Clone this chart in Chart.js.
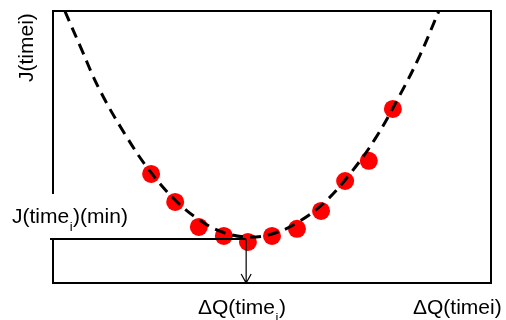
<!DOCTYPE html>
<html>
<head>
<meta charset="utf-8">
<script src="https://cdn.jsdelivr.net/npm/chart.js@4.4.0/dist/chart.umd.min.js"></script>
<style>
  html, body { margin: 0; padding: 0; background: #fff; }
  #wrap { width: 506px; height: 320px; }
</style>
</head>
<body>
<div id="wrap"><canvas id="costChart" width="506" height="320"></canvas></div>
<script>
// measured points J(ΔQ)
const sampleQ = [22.4, 27.9, 33.3, 39.0, 44.5, 50.0, 55.7, 61.2, 66.7, 72.1, 77.6];
const sampleJ = [40.1, 29.8, 20.6, 17.3, 15.1, 17.3, 19.9, 26.5, 37.5, 44.9, 64.0];

// fitted curve
const curveQ = [2.7, 6.2, 10.5, 16.4, 22.1, 27.9, 33.6, 39.3, 45.0, 50.7, 56.4, 62.1, 67.8, 73.5, 79.2, 83.8, 88.1];
const curveJ = [100, 87.1, 71.5, 54.8, 41.2, 30.5, 23.0, 18.4, 16.9, 18.4, 22.8, 29.8, 40.1, 52.9, 69.1, 83.8, 100];

// minimum of the curve
const minQ = 44.1;
const minJ = 16.2;

const FONT = '21px "Liberation Sans", Arial, sans-serif';
const SUB_FONT = '13px "Liberation Sans", Arial, sans-serif';

// text with a subscript "i" after the given prefix
function subText(ctx, x, y, before, sub, after) {
    ctx.font = FONT;
    ctx.fillText(before, x, y);
    x += ctx.measureText(before).width;
    ctx.font = SUB_FONT;
    ctx.fillText(sub, x + 0.5, y + 8);
    x += ctx.measureText(sub).width + 1;
    ctx.font = FONT;
    ctx.fillText(after, x, y);
}

// frame, minimum marker and labels
const decorPlugin = {
    id: "decor",
    afterDatasetsDraw(chart) {
        const ctx = chart.ctx;
        const area = chart.chartArea;
        const xs = chart.scales.x;
        const ys = chart.scales.y;
        const mx = xs.getPixelForValue(minQ);
        const my = ys.getPixelForValue(minJ);
        const labelTop = 194;

        ctx.save();
        ctx.strokeStyle = "#000";
        ctx.lineWidth = 2;
        ctx.lineCap = "butt";

        // box: top, right, bottom, left (left broken around the min label)
        ctx.beginPath();
        ctx.moveTo(area.left, labelTop);
        ctx.lineTo(area.left, area.top);
        ctx.lineTo(area.right, area.top);
        ctx.lineTo(area.right, area.bottom);
        ctx.lineTo(area.left, area.bottom);
        ctx.lineTo(area.left, my);
        ctx.stroke();

        // horizontal line at J min
        ctx.beginPath();
        ctx.moveTo(area.left - 3, my);
        ctx.lineTo(mx, my);
        ctx.stroke();

        // arrow down to ΔQ at the minimum
        ctx.lineWidth = 1.2;
        ctx.beginPath();
        ctx.moveTo(mx, my);
        ctx.lineTo(mx, area.bottom);
        ctx.moveTo(mx - 5, area.bottom - 9);
        ctx.lineTo(mx, area.bottom);
        ctx.lineTo(mx + 5, area.bottom - 9);
        ctx.stroke();

        // labels
        ctx.fillStyle = "#000";
        ctx.textBaseline = "alphabetic";
        ctx.textAlign = "left";
        subText(ctx, 12, 223, "J(time", "i", ")(min)");
        subText(ctx, 198, 314, "ΔQ(time", "i", ")");
        ctx.font = FONT;
        ctx.fillText("ΔQ(timei)", 413, 314);

        ctx.translate(33, 82);
        ctx.rotate(-Math.PI / 2);
        ctx.fillText("J(timei)", 0, 0);
        ctx.restore();
    }
};

const ctx = document.getElementById("costChart").getContext("2d");
new Chart(ctx, {
    type: "scatter",
    data: {
        datasets: [
            {
                // dashed fitted curve, on top of the dots
                type: "line",
                data: curveQ.map((q, i) => ({ x: q, y: curveJ[i] })),
                borderColor: "#000",
                borderWidth: 3,
                borderDash: [11, 7],
                pointRadius: 0,
                tension: 0.4,
                fill: false,
                order: 0
            },
            {
                data: sampleQ.map((q, i) => ({ x: q, y: sampleJ[i] })),
                backgroundColor: "#ff0000",
                borderWidth: 0,
                pointRadius: 9,
                order: 1
            }
        ]
    },
    options: {
        responsive: false,
        animation: false,
        layout: { padding: { left: 53, right: 15, top: 11, bottom: 37 } },
        scales: {
            x: { type: "linear", min: 0, max: 100, display: false },
            y: { type: "linear", min: 0, max: 100, display: false }
        },
        plugins: {
            legend: { display: false },
            tooltip: { enabled: false }
        }
    },
    plugins: [decorPlugin]
});
</script>
</body>
</html>
